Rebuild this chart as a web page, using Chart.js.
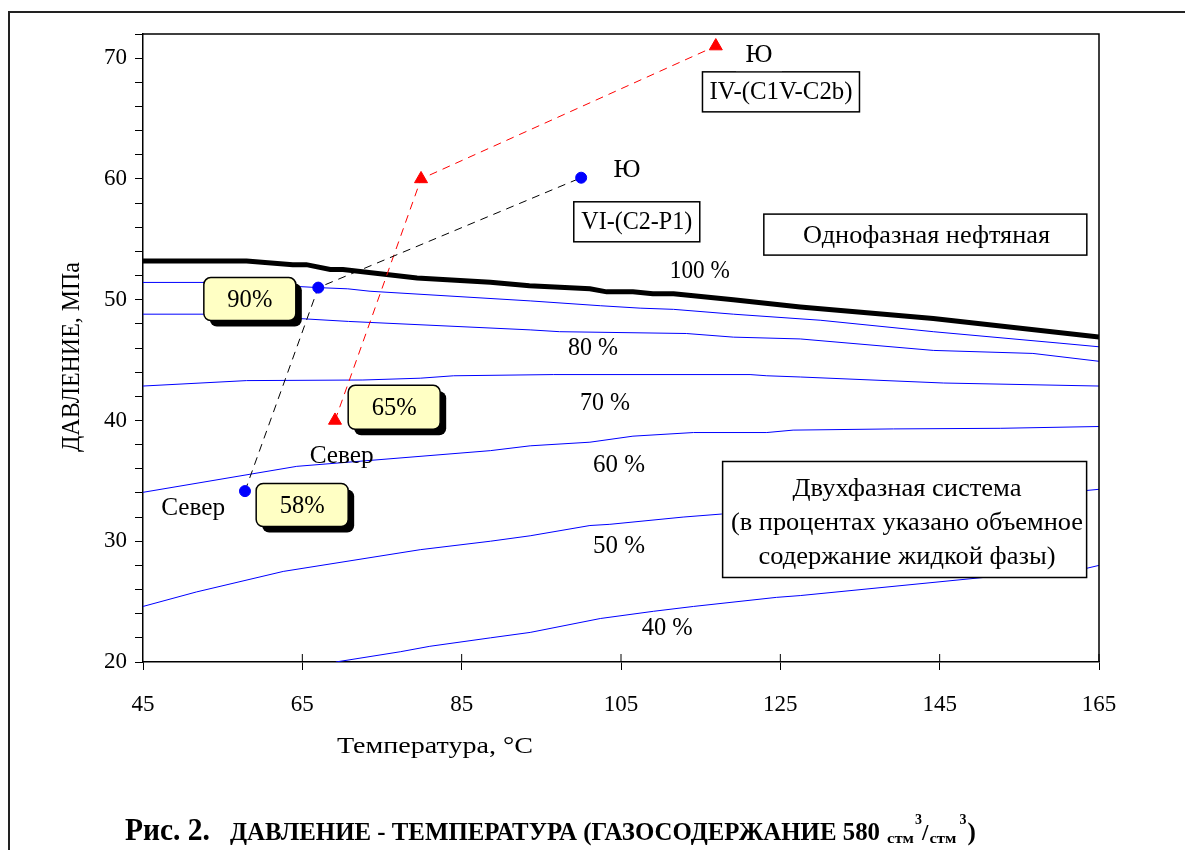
<!DOCTYPE html>
<html>
<head>
<meta charset="utf-8">
<script src="https://cdn.jsdelivr.net/npm/chart.js@4.4.1/dist/chart.umd.min.js"></script>
<style>
  html, body { margin: 0; padding: 0; background: #fff; }
  #wrap { width: 1185px; height: 850px; }
</style>
</head>
<body>
<div id="wrap"><canvas id="chart" width="1185" height="850"></canvas></div>
<script>
// axes: температура, °C (x) / давление, МПа (y)
const xTicks = [45, 65, 85, 105, 125, 145, 165];
const yLabelStep = 10;

// 100 % (линия насыщения)
const t100 = [45, 58, 63.8, 65.5, 68.5, 70.1, 79.4, 88.6, 93.5, 101.1, 103.2, 106.5, 109, 111.6, 119.1, 127.5, 144.2, 165];
const p100 = [53.2, 53.2, 52.9, 52.9, 52.5, 52.5, 51.8, 51.45, 51.15, 50.9, 50.65, 50.65, 50.5, 50.5, 50.0, 49.4, 48.45, 46.9];
// 90 %
const t90 = [45, 58, 64.3, 67, 70.7, 73.5, 93.6, 102.4, 107.4, 111.6, 119.1, 130, 144.2, 160.1, 165];
const p90 = [51.43, 51.43, 51.1, 51.0, 50.9, 50.7, 49.9, 49.5, 49.3, 49.2, 48.8, 48.3, 47.35, 46.4, 46.1];
// 80 %
const t80 = [45, 58, 64.3, 70.8, 93.6, 97.3, 113.2, 119.1, 127.5, 144.2, 156.7, 165];
const p80 = [48.8, 48.8, 48.45, 48.2, 47.5, 47.35, 47.2, 46.9, 46.75, 45.8, 45.55, 44.9];
// 70 %
const t70 = [45, 58, 72.6, 79.8, 84, 96.5, 121.2, 123.3, 127.5, 145.5, 165];
const p70 = [42.85, 43.3, 43.35, 43.5, 43.7, 43.8, 43.8, 43.7, 43.6, 43.1, 42.85];
// 60 %
const t60 = [45, 64.3, 88.6, 93.6, 101.1, 106.5, 114.1, 123.3, 126.6, 139.2, 152.6, 165];
const p60 = [34.05, 36.2, 37.5, 37.9, 38.2, 38.7, 39.0, 39.0, 39.2, 39.3, 39.35, 39.5];
// 50 %
const t50 = [45, 51.7, 62.6, 79.8, 88.6, 93.6, 101.1, 103.6, 112.8, 117.6, 163.4, 165];
const p50 = [24.6, 25.8, 27.5, 29.3, 30.0, 30.45, 31.3, 31.4, 32.0, 32.25, 34.2, 34.3];
// 40 %
const t40 = [69.2, 77.3, 81, 88.6, 93.6, 102.4, 109.1, 114.1, 124.5, 127.5, 150.5, 163.4, 165];
const p40 = [20, 20.85, 21.3, 22.0, 22.45, 23.6, 24.2, 24.6, 25.35, 25.5, 27.0, 27.75, 28.0];

// скважины: Север -> ... -> Ю
const tVI = [57.8, 67.0, 100.0];
const pVI = [34.15, 51.0, 60.1];
const tIV = [69.1, 79.9, 116.9];
const pIV = [40.0, 60.0, 71.0];

const FONT = '"Liberation Serif", "Times New Roman", serif';

function pts(ts, ps) {
    return ts.map((t, i) => ({ x: t, y: ps[i] }));
}

function curve(ts, ps, color, width) {
    return {
        type: 'line',
        data: pts(ts, ps),
        borderColor: color,
        borderWidth: width,
        pointRadius: 0,
        tension: 0,
        fill: false
    };
}

// draw text, squeezed horizontally when a target width is given
function drawText(ctx, s, x, y, size, opts) {
    opts = opts || {};
    ctx.save();
    ctx.font = (opts.bold ? 'bold ' : '') + size + 'px ' + FONT;
    ctx.fillStyle = '#000';
    ctx.textBaseline = 'middle';
    let w = ctx.measureText(s).width;
    let sx = opts.width ? opts.width / w : 1;
    let align = opts.align || 'center';
    let left = align === 'center' ? x - w * sx / 2 : (align === 'right' ? x - w * sx : x);
    ctx.translate(left, y);
    ctx.scale(sx, 1);
    ctx.textAlign = 'left';
    ctx.fillText(s, 0, 0);
    ctx.restore();
    return w * sx;
}

function plainBox(ctx, cx, cy, w, h) {
    ctx.save();
    ctx.fillStyle = '#fff';
    ctx.fillRect(cx - w / 2, cy - h / 2, w, h);
    ctx.strokeStyle = '#000';
    ctx.lineWidth = 1.5;
    ctx.strokeRect(cx - w / 2, cy - h / 2, w, h);
    ctx.restore();
}

function calloutBox(ctx, cx, cy, w, h, s) {
    ctx.save();
    ctx.fillStyle = '#000';
    ctx.beginPath();
    ctx.roundRect(cx - w / 2 + 6, cy - h / 2 + 6, w, h, 7);
    ctx.fill();
    ctx.beginPath();
    ctx.roundRect(cx - w / 2, cy - h / 2, w, h, 7);
    ctx.fillStyle = '#FFFFC4';
    ctx.fill();
    ctx.strokeStyle = '#000';
    ctx.lineWidth = 1.5;
    ctx.stroke();
    ctx.restore();
    drawText(ctx, s, cx, cy + 1, 26, { width: 45 });
}

const annotations = {
    id: 'annotations',
    beforeDraw(chart) {
        const ctx = chart.ctx;
        ctx.save();
        ctx.fillStyle = '#fff';
        ctx.fillRect(0, 0, chart.width, chart.height);
        ctx.restore();
    },
    afterDatasetsDraw(chart) {
        const ctx = chart.ctx;
        const sx = chart.scales.x, sy = chart.scales.y;
        const X = t => sx.getPixelForValue(t);
        const Y = p => sy.getPixelForValue(p);
        const a = chart.chartArea;

        // plot frame (top + right) and crossing x ticks
        ctx.save();
        ctx.strokeStyle = '#000';
        ctx.lineWidth = 1.5;
        ctx.beginPath();
        ctx.moveTo(a.left, a.top);
        ctx.lineTo(a.right, a.top);
        ctx.lineTo(a.right, a.bottom);
        ctx.stroke();
        ctx.lineWidth = 1;
        ctx.beginPath();
        xTicks.slice(1).forEach(t => {
            ctx.moveTo(X(t), a.bottom - 8);
            ctx.lineTo(X(t), a.bottom);
        });
        ctx.stroke();
        ctx.restore();

        // percentage labels
        [['100 %', 114.9, 52.3, 60], ['80 %', 101.5, 46.0, 50], ['70 %', 103.0, 41.45, 50],
         ['60 %', 104.75, 36.3, 52], ['50 %', 104.75, 29.55, 52], ['40 %', 110.8, 22.8, 51]]
            .forEach(l => drawText(ctx, l[0], X(l[1]), Y(l[2]), 25, { width: l[3] }));

        // region boxes
        plainBox(ctx, X(143.2), Y(55.39), 323, 41);
        drawText(ctx, 'Однофазная нефтяная', X(143.35), Y(55.26), 25, { width: 247 });

        plainBox(ctx, X(140.6), Y(31.8), 364, 116);
        drawText(ctx, 'Двухфазная система', X(140.9), Y(34.32), 25, { width: 229 });
        drawText(ctx, '(в процентах указано объемное', X(140.9), Y(31.51), 25, { width: 352 });
        drawText(ctx, 'содержание жидкой фазы)', X(140.9), Y(28.69), 25, { width: 297 });

        // wells
        plainBox(ctx, X(125.08), Y(67.21), 157, 40);
        drawText(ctx, 'IV-(C1V-C2b)', X(125.08), Y(67.21), 26, { width: 143 });
        ctx.save();
        ctx.fillStyle = '#fff';
        ctx.fillRect(X(122.32) - 23, Y(70.25) - 14, 46, 30);
        ctx.restore();
        drawText(ctx, 'Ю', X(122.32), Y(70.25), 26, { width: 27 });

        plainBox(ctx, X(106.98), Y(56.45), 126, 40);
        drawText(ctx, 'VI-(C2-P1)', X(106.98), Y(56.45), 26, { width: 111 });
        drawText(ctx, 'Ю', X(105.75), Y(60.73), 26, { width: 27 });

        drawText(ctx, 'Север', X(51.3), Y(32.72), 25, { width: 64 });
        drawText(ctx, 'Север', X(69.94), Y(37.05), 25, { width: 64 });

        calloutBox(ctx, X(58.41), Y(50.05), 92, 43, '90%');
        calloutBox(ctx, X(76.53), Y(41.09), 92, 44, '65%');
        calloutBox(ctx, X(64.98), Y(33.0), 92, 43, '58%');
    },
    afterDraw(chart) {
        const ctx = chart.ctx;
        // outer frame
        ctx.save();
        ctx.strokeStyle = '#222';
        ctx.lineWidth = 2;
        ctx.beginPath();
        ctx.moveTo(9, chart.height);
        ctx.lineTo(9, 12);
        ctx.lineTo(chart.width, 12);
        ctx.stroke();
        ctx.restore();

        // axis titles
        drawText(ctx, 'Температура, °C', 435, 747, 24, { width: 196 });
        ctx.save();
        ctx.translate(72, 357);
        ctx.rotate(-Math.PI / 2);
        drawText(ctx, 'ДАВЛЕНИЕ, МПа', 0, 0, 25, { width: 190 });
        ctx.restore();

        // caption
        let x = 125;
        drawText(ctx, 'Рис. 2.', x, 832, 31, { bold: true, align: 'left', width: 85 });
        x = 230;
        x += drawText(ctx, 'ДАВЛЕНИЕ - ТЕМПЕРАТУРА (ГАЗОСОДЕРЖАНИЕ 580', x, 834, 25, { bold: true, align: 'left', width: 650 });
        x += 7;
        x += drawText(ctx, 'стм', x, 839, 15, { bold: true, align: 'left', width: 27 });
        x += 1;
        x += drawText(ctx, '3', x, 820, 14, { bold: true, align: 'left' });
        x += drawText(ctx, '/', x, 834, 23, { bold: true, align: 'left' });
        x += 1;
        x += drawText(ctx, 'стм', x, 839, 15, { bold: true, align: 'left', width: 27 });
        x += 3;
        x += drawText(ctx, '3', x, 820, 14, { bold: true, align: 'left' });
        x += 1;
        drawText(ctx, ')', x, 834, 25, { bold: true, align: 'left' });
    }
};

const axisGrid = {
    display: true,
    drawOnChartArea: false,
    drawTicks: true,
    tickLength: 8,
    color: '#000',
    lineWidth: 1
};

new Chart(document.getElementById('chart'), {
    type: 'line',
    data: {
        datasets: [
            {
                type: 'line',
                data: pts(tVI, pVI),
                borderColor: '#000',
                borderWidth: 1,
                borderDash: [8, 6],
                pointStyle: 'circle',
                pointRadius: 5.5,
                pointBackgroundColor: '#0000FF',
                pointBorderColor: '#0000FF',
                pointBorderWidth: 1,
                tension: 0,
                fill: false
            },
            {
                type: 'line',
                data: pts(tIV, pIV),
                borderColor: '#FF0000',
                borderWidth: 1,
                borderDash: [8, 6],
                pointStyle: 'triangle',
                pointRadius: 7.5,
                pointBackgroundColor: '#FF0000',
                pointBorderColor: '#FF0000',
                pointBorderWidth: 1,
                tension: 0,
                fill: false
            },
            curve(t100, p100, '#000', 5),
            curve(t90, p90, '#0000FF', 1),
            curve(t80, p80, '#0000FF', 1),
            curve(t70, p70, '#0000FF', 1),
            curve(t60, p60, '#0000FF', 1),
            curve(t50, p50, '#0000FF', 1),
            curve(t40, p40, '#0000FF', 1)
        ]
    },
    options: {
        responsive: false,
        animation: false,
        layout: { padding: { left: 83, right: 86, top: 34, bottom: 128 } },
        plugins: {
            legend: { display: false },
            tooltip: { enabled: false }
        },
        scales: {
            x: {
                type: 'linear',
                min: 45,
                max: 165,
                afterBuildTicks: s => { s.ticks = xTicks.map(v => ({ value: v })); },
                afterFit: s => { s.height = 60; },
                ticks: {
                    autoSkip: false,
                    maxRotation: 0,
                    padding: 21,
                    color: '#000',
                    font: { family: FONT, size: 23 }
                },
                grid: axisGrid,
                border: { display: true, color: '#000', width: 1.5 }
            },
            y: {
                type: 'linear',
                min: 20,
                max: 72,
                afterFit: s => { s.width = 60; },
                ticks: {
                    stepSize: 2,
                    autoSkip: false,
                    padding: 8,
                    color: '#000',
                    font: { family: FONT, size: 23 },
                    callback: v => (v % yLabelStep === 0 ? String(v) : '')
                },
                grid: axisGrid,
                border: { display: true, color: '#000', width: 1.5 }
            }
        }
    },
    plugins: [annotations]
});
</script>
</body>
</html>
